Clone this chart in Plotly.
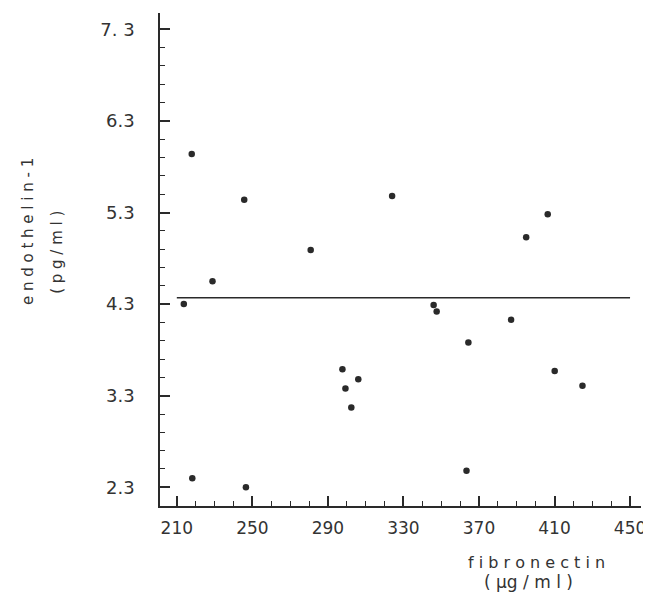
import plotly.graph_objects as go

# data
fibronectin = [213.7, 217.9, 228.9, 245.7, 280.9, 324.0, 346.0, 347.6, 387.0, 364.4,
               297.7, 306.1, 299.3, 302.4, 410.1, 424.8, 363.4, 395.0, 406.4, 218.2, 246.6]
endothelin = [4.30, 5.94, 4.55, 5.44, 4.89, 5.48, 4.29, 4.22, 4.13, 3.88,
              3.59, 3.48, 3.38, 3.17, 3.57, 3.41, 2.48, 5.03, 5.28, 2.40, 2.30]
line_x = [210, 450]
line_y = [4.37, 4.37]
x_ticks = [210, 250, 290, 330, 370, 410, 450]
y_ticks = [2.3, 3.3, 4.3, 5.3, 6.3, 7.3]
y_tick_text = ["2.3", "3.3", "4.3", "5.3", "6.3", "7. 3"]

ink = "#2a2a2a"
txt = "#333333"
font = "DejaVu Sans"

# the page body adds an 8px offset; plot area spans page x 160-645, y 13-506
PX0, PX1, PY0, PY1 = 160, 645, 13, 506


def px(x):
    return (x - PX0) / (PX1 - PX0)


def py(y):
    return (PY1 - y) / (PY1 - PY0)


fig = go.Figure()
fig.add_trace(go.Scatter(x=line_x, y=line_y, mode="lines",
                         line=dict(color=ink, width=1.6), hoverinfo="skip"))
fig.add_trace(go.Scatter(x=fibronectin, y=endothelin, mode="markers",
                         marker=dict(color=ink, size=6.5)))

fig.update_layout(
    width=643, height=598,
    margin=dict(l=152, r=6, t=5, b=100),
    paper_bgcolor="white", plot_bgcolor="white",
    showlegend=False,
    font=dict(family=font, color=txt, size=16),
    xaxis=dict(range=[201.1, 455.8], tickmode="array", tickvals=x_ticks,
               ticks="inside", ticklen=10, tickwidth=1.5, tickcolor=ink,
               showline=True, linecolor=ink, linewidth=1.6,
               showgrid=False, zeroline=False,
               minor=dict(tickmode="linear", tick0=210, dtick=10, ticks="inside",
                          ticklen=5, tickwidth=1.3, tickcolor=ink, showgrid=False),
               ticklabelstandoff=6,
               tickfont=dict(size=17, family=font, color=txt)),
    yaxis=dict(range=[2.096, 7.478], tickmode="array", tickvals=y_ticks,
               ticktext=y_tick_text,
               ticks="inside", ticklen=10, tickwidth=1.5, tickcolor=ink,
               showline=True, linecolor=ink, linewidth=1.6,
               showgrid=False, zeroline=False,
               minor=dict(tickmode="linear", tick0=2.3, dtick=0.2, ticks="inside",
                          ticklen=5, tickwidth=1.3, tickcolor=ink, showgrid=False),
               ticklabelstandoff=20,
               tickfont=dict(size=18, family=font, color=txt)),
)

common = dict(xref="paper", yref="paper", showarrow=False,
              xanchor="center", yanchor="middle")
fig.add_annotation(text="f i b r o n e c t i n", x=px(540), y=py(562),
                   font=dict(size=16, family=font, color=txt), **common)
fig.add_annotation(text="( µg / m l )", x=px(532), y=py(582),
                   font=dict(size=17, family=font, color=txt), **common)
fig.add_annotation(text="e n d o t h e l i n - 1", x=px(27), y=py(232), textangle=-90,
                   font=dict(size=15, family=font, color=txt), **common)
fig.add_annotation(text="( p g / m l )", x=px(56), y=py(252), textangle=-90,
                   font=dict(size=15, family=font, color=txt), **common)

fig.write_html("out.html")
